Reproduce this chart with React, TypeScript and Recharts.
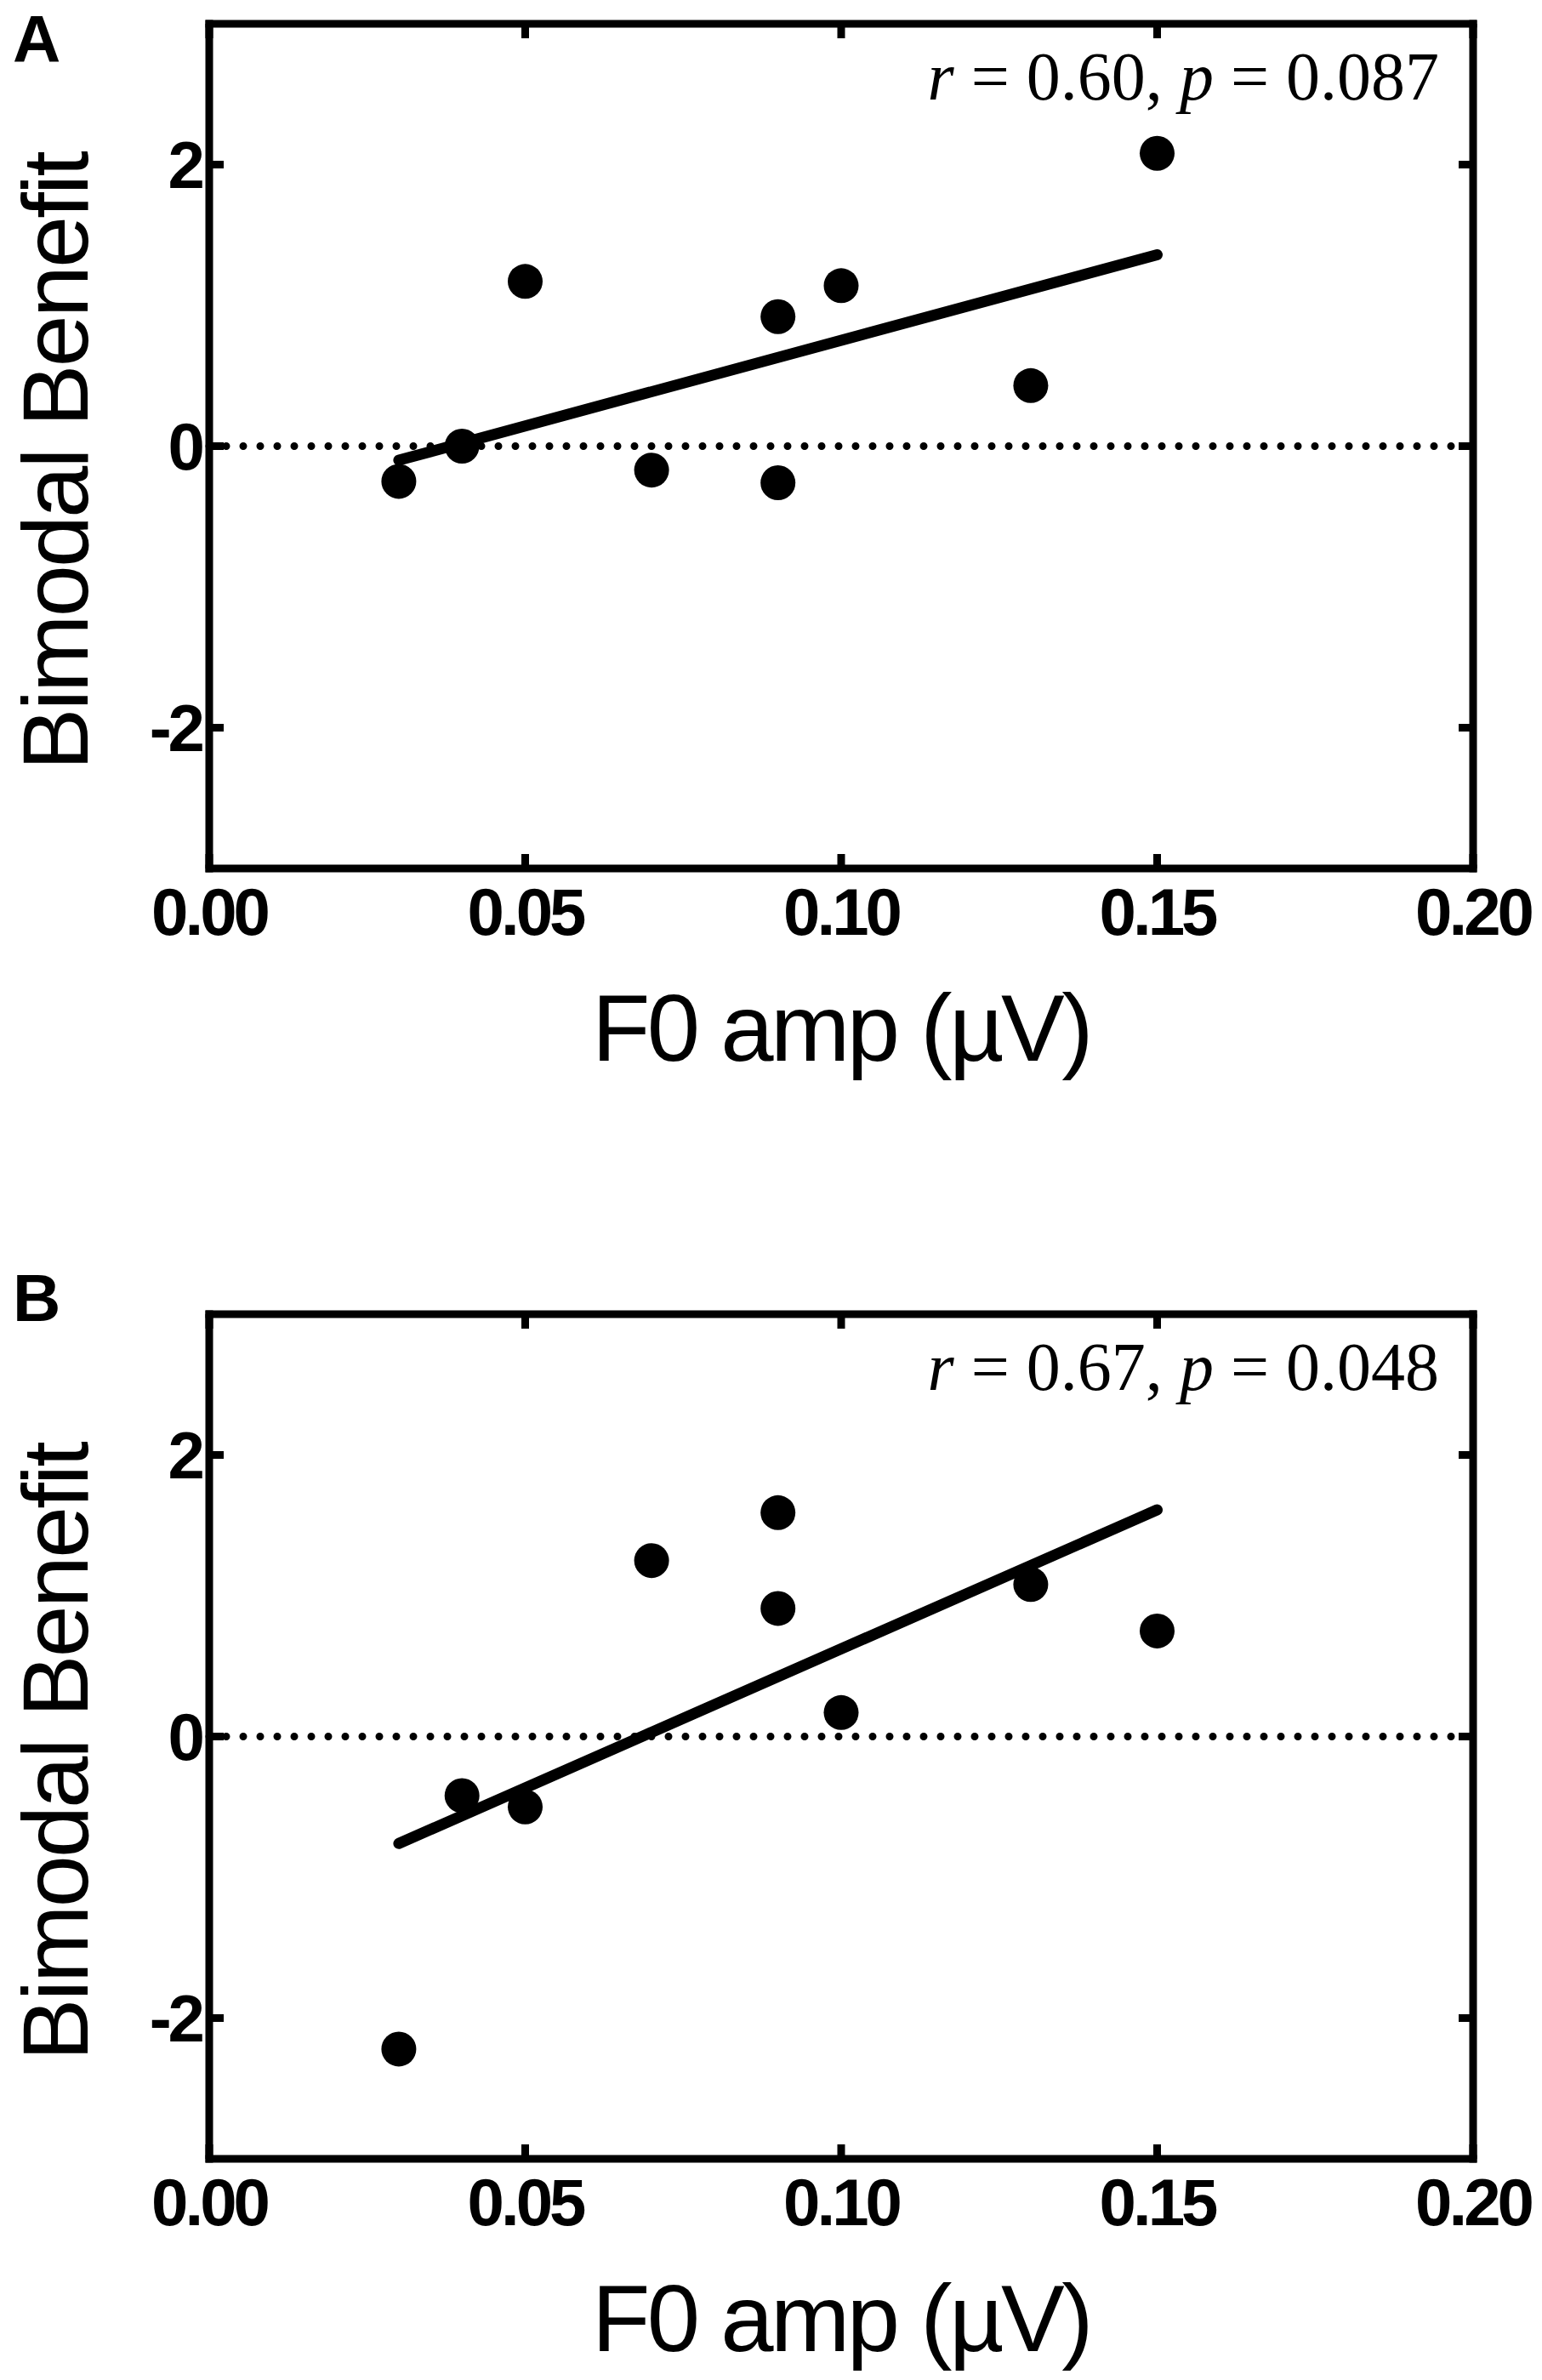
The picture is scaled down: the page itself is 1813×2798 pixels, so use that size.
import React from "react";
import { ComposedChart, Scatter, XAxis, YAxis, ReferenceLine } from "recharts";

// axis ticks
const xTicks = [0, 0.05, 0.1, 0.15, 0.2];
const yTicks = [-2, 0, 2];

// panel A: F0 amp vs bimodal benefit
const pointsA = [
  { x: 0.03, y: -0.25 },
  { x: 0.04, y: 0.0 },
  { x: 0.05, y: 1.17 },
  { x: 0.07, y: -0.17 },
  { x: 0.09, y: 0.92 },
  { x: 0.09, y: -0.26 },
  { x: 0.1, y: 1.14 },
  { x: 0.13, y: 0.43 },
  { x: 0.15, y: 2.08 },
];
const fitA = [
  { x: 0.03, y: -0.1 },
  { x: 0.15, y: 1.36 },
];

// panel B
const pointsB = [
  { x: 0.03, y: -2.22 },
  { x: 0.04, y: -0.42 },
  { x: 0.05, y: -0.5 },
  { x: 0.07, y: 1.25 },
  { x: 0.09, y: 1.59 },
  { x: 0.09, y: 0.91 },
  { x: 0.1, y: 0.17 },
  { x: 0.13, y: 1.08 },
  { x: 0.15, y: 0.75 },
];
const fitB = [
  { x: 0.03, y: -0.76 },
  { x: 0.15, y: 1.61 },
];

const sans = "'Liberation Sans', Arial, Helvetica, sans-serif";
const serif = "'Liberation Serif', 'Times New Roman', serif";

const W = 1813;
const H = 1399;
const PLOT_H = 993;
const LEFT = 246;
const RIGHT_W = 81;
const TICK = 17;

const labelFont = {
  fill: "#000",
  fontSize: 78,
  fontWeight: 700,
  fontFamily: sans,
  letterSpacing: -4,
};
const axisLine = { stroke: "#000", strokeWidth: 9, strokeLinecap: "square" as const };

const Dot = (props: any) => <circle cx={props.cx} cy={props.cy} r={20.5} fill="#000" />;
const NoShape = () => <g />;

interface PanelProps {
  letter: string;
  letterY: number;
  plotTop: number;
  points: { x: number; y: number }[];
  fit: { x: number; y: number }[];
  r: string;
  p: string;
}

function Panel({ letter, letterY, plotTop, points, fit, r, p }: PanelProps) {
  const plotBottom = plotTop + PLOT_H;
  const plotRight = W - RIGHT_W;
  const centerX = LEFT + (plotRight - LEFT) / 2;

  // inward ticks on all four sides; the top/right axes get none from recharts,
  // so the bottom/left tick renderers draw the mirrored ones too
  const BottomTick = ({ x, payload }: any) => (
    <g>
      <line x1={x} x2={x} y1={plotBottom} y2={plotBottom - TICK} stroke="#000" strokeWidth={9} />
      <line x1={x} x2={x} y1={plotTop} y2={plotTop + TICK} stroke="#000" strokeWidth={9} />
      <text x={x} y={plotBottom + 78} textAnchor="middle" {...labelFont}>
        {payload.value.toFixed(2)}
      </text>
    </g>
  );
  const LeftTick = ({ y, payload }: any) => (
    <g>
      <line x1={LEFT} x2={LEFT + TICK} y1={y} y2={y} stroke="#000" strokeWidth={9} />
      <line x1={plotRight} x2={plotRight - TICK} y1={y} y2={y} stroke="#000" strokeWidth={9} />
      <text x={237} y={y} dy="0.355em" textAnchor="end" {...labelFont}>
        {payload.value}
      </text>
    </g>
  );

  return (
    <ComposedChart width={W} height={H} margin={{ top: 0, right: 0, bottom: 0, left: 0 }}>
      <XAxis
        xAxisId="top"
        orientation="top"
        type="number"
        dataKey="x"
        domain={[0, 0.2]}
        ticks={xTicks}
        height={plotTop}
        tick={false}
        tickLine={false}
        axisLine={axisLine}
      />
      <XAxis
        type="number"
        dataKey="x"
        domain={[0, 0.2]}
        ticks={xTicks}
        interval={0}
        height={H - plotBottom}
        tick={BottomTick}
        tickLine={false}
        axisLine={axisLine}
      />
      <YAxis
        type="number"
        dataKey="y"
        domain={[-3, 3]}
        ticks={yTicks}
        interval={0}
        width={LEFT}
        tick={LeftTick}
        tickLine={false}
        axisLine={axisLine}
      />
      <YAxis
        yAxisId="right"
        orientation="right"
        type="number"
        domain={[-3, 3]}
        ticks={yTicks}
        width={RIGHT_W}
        tick={false}
        tickLine={false}
        axisLine={axisLine}
      />
      <ReferenceLine
        y={0}
        stroke="#000"
        strokeWidth={9}
        strokeDasharray="0 20"
        strokeLinecap="round"
      />
      <Scatter
        data={fit}
        shape={NoShape}
        line={{ stroke: "#000", strokeWidth: 13, strokeLinecap: "round" }}
        isAnimationActive={false}
      />
      <Scatter data={points} shape={Dot} isAnimationActive={false} />

      <text x={15} y={letterY} fontFamily={sans} fontWeight={700} fontSize={78} fill="#000">
        {letter}
      </text>
      <text
        x={1692}
        y={plotTop + 89}
        textAnchor="end"
        fontFamily={serif}
        fontSize={80}
        fill="#000"
      >
        <tspan fontStyle="italic">r</tspan>
        {` = ${r}, `}
        <tspan fontStyle="italic">p</tspan>
        {` = ${p}`}
      </text>
      <text
        transform={`translate(103, ${plotTop + 515}) rotate(-90)`}
        textAnchor="middle"
        fontFamily={sans}
        fontSize={110}
        letterSpacing={-3}
        fill="#000"
      >
        Bimodal Benefit
      </text>
      <text
        x={centerX}
        y={plotBottom + 226}
        textAnchor="middle"
        fontFamily={sans}
        fontSize={112}
        letterSpacing={-3.5}
        fill="#000"
      >
        F0 amp (µV)
      </text>
    </ComposedChart>
  );
}

export default function App() {
  return (
    <div
      style={{
        position: "absolute",
        left: 0,
        top: 0,
        width: W,
        height: 2798,
        background: "#fff",
      }}
    >
      <div style={{ position: "absolute", left: 0, top: 0 }}>
        <Panel letter="A" letterY={73} plotTop={28} points={pointsA} fit={fitA} r="0.60" p="0.087" />
      </div>
      <div style={{ position: "absolute", left: 0, top: H }}>
        <Panel letter="B" letterY={154} plotTop={146} points={pointsB} fit={fitB} r="0.67" p="0.048" />
      </div>
    </div>
  );
}
